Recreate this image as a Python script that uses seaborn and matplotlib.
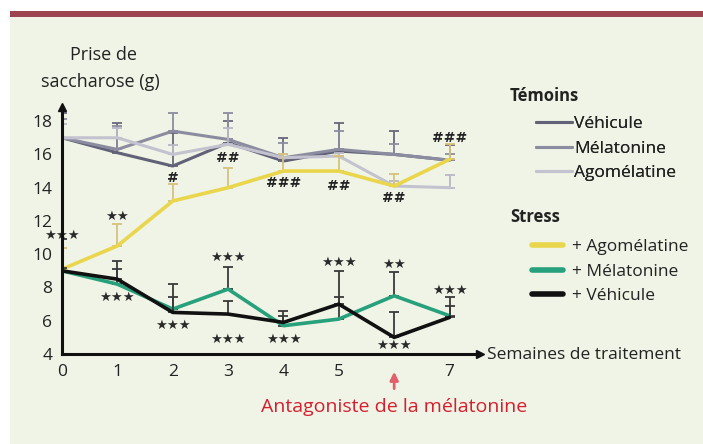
import matplotlib
matplotlib.use("Agg")
import matplotlib.pyplot as plt
from matplotlib.patches import Rectangle
from matplotlib.lines import Line2D
import seaborn as sns
import pandas as pd

# semaines de traitement
weeks = [0, 1, 2, 3, 4, 5, 6, 7]
week_labels = ["0", "1", "2", "3", "4", "5", "", "7"]

# Témoins
tem_vehicule = [17.0, 16.1, 15.3, 16.7, 15.6, 16.2, 16.0, 15.65]
tem_vehicule_err = [1.5, 1.8, 2.0, 1.3, 1.4, 1.7, 1.4, 0.9]
tem_melatonine = [17.0, 16.3, 17.4, 16.9, 15.8, 16.3, 16.0, 15.65]
tem_melatonine_err = [1.1, 1.4, 1.1, 1.6, 0.9, 1.1, 0.6, 0.35]
tem_agomelatine = [17.0, 17.0, 16.0, 16.6, 15.8, 15.9, 14.1, 14.0]
tem_agomelatine_err = [0.8, 0.6, 0.55, 1.0, 0.2, 0.2, 0.3, 0.75]

# Stress
str_agomelatine = [9.1, 10.5, 13.2, 14.0, 15.0, 15.0, 14.1, 15.7]
str_agomelatine_err = [1.3, 1.3, 1.0, 1.2, 1.0, 0.9, 0.7, 0.9]
str_melatonine = [9.0, 8.2, 6.7, 7.9, 5.7, 6.1, 7.5, 6.3]
str_melatonine_err = [0.2, 0.9, 1.5, 1.35, 0.6, 2.9, 1.4, 1.1]
str_vehicule = [9.0, 8.5, 6.5, 6.4, 5.9, 7.0, 5.0, 6.2]
str_vehicule_err = [1.9, 1.1, 0.9, 0.8, 0.7, 0.4, 1.5, 0.7]

# significativité (semaine, y, texte)
stars = [(0, 11.1, "★★★"), (1, 12.3, "★★"), (1, 7.4, "★★★"), (2, 5.7, "★★★"),
         (3, 9.8, "★★★"), (3, 4.9, "★★★"), (4, 4.9, "★★★"), (5, 9.5, "★★★"),
         (6, 9.4, "★★"), (6, 4.5, "★★★"), (7, 7.85, "★★★")]
hashes = [(2, 14.6, "#"), (3, 15.8, "##"), (4, 14.3, "###"), (5, 14.1, "##"),
          (6, 13.4, "##"), (7, 17.0, "###")]

series = [
    ("Témoins", "Véhicule", tem_vehicule, tem_vehicule_err, "#616177", "#67677b", 2.2),
    ("Témoins", "Mélatonine", tem_melatonine, tem_melatonine_err, "#8c8ca0", "#8c8ca0", 2.2),
    ("Témoins", "Agomélatine", tem_agomelatine, tem_agomelatine_err, "#c3c3cf", "#b8b8c6", 2.2),
    ("Stress", "+ Agomélatine", str_agomelatine, str_agomelatine_err, "#e9d64c", "#d6c27e", 2.6),
    ("Stress", "+ Mélatonine", str_melatonine, str_melatonine_err, "#27a07c", "#3a3a3a", 2.6),
    ("Stress", "+ Véhicule", str_vehicule, str_vehicule_err, "#111111", "#3a3a3a", 2.6),
]

rows = []
for grp, name, vals, errs, col, ecol, lw in series:
    for w, v, e in zip(weeks, vals, errs):
        rows.append({"groupe": grp, "traitement": grp + " " + name, "semaine": w,
                     "prise": v, "err": e})
df = pd.DataFrame(rows)

sns.set_theme(style="white")
plt.rcParams["font.family"] = ["Open Sans", "DejaVu Sans"]
bg = "#eff4e6"
txt = "#222222"

fig = plt.figure(figsize=(7.03, 4.44), dpi=100, facecolor="white")
fig.patches.append(Rectangle((10 / 703, 0), 1, (444 - 17) / 444, transform=fig.transFigure,
                             facecolor=bg, edgecolor="none", zorder=-5))
fig.patches.append(Rectangle((10 / 703, (444 - 17) / 444), 1, 6 / 444, transform=fig.transFigure,
                             facecolor="#9c4450", edgecolor="none", zorder=-5))

ax = fig.add_axes([62 / 703, 90 / 444, (480 - 62) / 703, (354 - 107) / 444])
ax.set_facecolor("none")

for i, (grp, name, vals, errs, col, ecol, lw) in enumerate(series):
    key = grp + " " + name
    sub = df[df["traitement"] == key]
    ax.errorbar(sub["semaine"], sub["prise"], yerr=[[0] * len(sub), sub["err"]],
                fmt="none", ecolor=ecol, elinewidth=1.3, capsize=3.5, capthick=1.3,
                zorder=2 + i)
    sns.lineplot(data=sub, x="semaine", y="prise", color=col, linewidth=lw,
                 ax=ax, legend=False, zorder=3 + i)

for w, y, s in stars:
    ax.text(w, y, s, ha="center", va="center", fontsize=9.5, color="#2a2a2a",
            family="DejaVu Sans")
for w, y, s in hashes:
    ax.text(w, y, s, ha="center", va="center", fontsize=10, color=txt,
            family="DejaVu Sans", fontweight="bold")

ax.set_xlim(0, 7.55)
ax.set_ylim(4, 18.85)
ax.set_xticks(weeks)
ax.set_xticklabels(week_labels)
ax.set_yticks(range(4, 19, 2))
ax.tick_params(axis="both", direction="out", length=6, width=1.5, color="#111111",
               labelsize=12.5, labelcolor=txt, pad=1)
for s in ["top", "right"]:
    ax.spines[s].set_visible(False)
for s in ["left", "bottom"]:
    ax.spines[s].set_linewidth(2.2)
    ax.spines[s].set_color("#111111")
    ax.spines[s].set_zorder(20)
ax.plot(1, 0, ">", color="#111111", markersize=6, transform=ax.transAxes, clip_on=False, zorder=21)
ax.plot(0, 1, "^", color="#111111", markersize=6, transform=ax.transAxes, clip_on=False, zorder=21)
ax.set_xlabel("")
ax.set_ylabel("")

fig.text(103 / 703, 1 - 55 / 444, "Prise de", ha="center", va="center", fontsize=13, color=txt)
fig.text(100 / 703, 1 - 82 / 444, "saccharose (g)", ha="center", va="center", fontsize=13, color=txt)
fig.text(487 / 703, 1 - 355 / 444, "Semaines de traitement", ha="left", va="center",
         fontsize=12.5, color=txt)

# antagoniste à la semaine 6
ax.annotate("", xy=(6, 3.1), xytext=(6, 1.75), xycoords="data",
            arrowprops=dict(arrowstyle="-|>", color="#e0606c", lw=2, mutation_scale=12),
            annotation_clip=False)
ax.text(6, 0.8, "Antagoniste de la mélatonine", ha="center", va="center",
        fontsize=14, color="#d4202e", clip_on=False)

# légendes
tem_handles = [Line2D([], [], color=c, lw=lw) for g, n, v, e, c, ec, lw in series if g == "Témoins"]
tem_labels = [n for g, n, v, e, c, ec, lw in series if g == "Témoins"]
str_handles = [Line2D([], [], color=c, lw=4) for g, n, v, e, c, ec, lw in series if g == "Stress"]
str_labels = [n for g, n, v, e, c, ec, lw in series if g == "Stress"]

fig.text(510 / 703, 1 - 96 / 444, "Témoins", ha="left", va="center", fontsize=12,
         fontweight="bold", color=txt)
fig.text(510 / 703, 1 - 217 / 444, "Stress", ha="left", va="center", fontsize=12,
         fontweight="bold", color=txt)
leg1 = fig.legend(tem_handles, tem_labels, loc="upper left",
                  bbox_to_anchor=(520 / 703, 1 - 100 / 444), frameon=False, fontsize=12.5,
                  handlelength=2.1, handletextpad=0.1, labelspacing=0.5)
fig.legend(str_handles, str_labels, loc="upper left",
           bbox_to_anchor=(516 / 703, 1 - 223 / 444), frameon=False, fontsize=12.5,
           handlelength=1.8, handletextpad=0.55, labelspacing=0.5)
fig.add_artist(leg1)
for leg in fig.legends:
    for t in leg.get_texts():
        t.set_color(txt)

plt.savefig("out.png", dpi=100, facecolor=fig.get_facecolor())
